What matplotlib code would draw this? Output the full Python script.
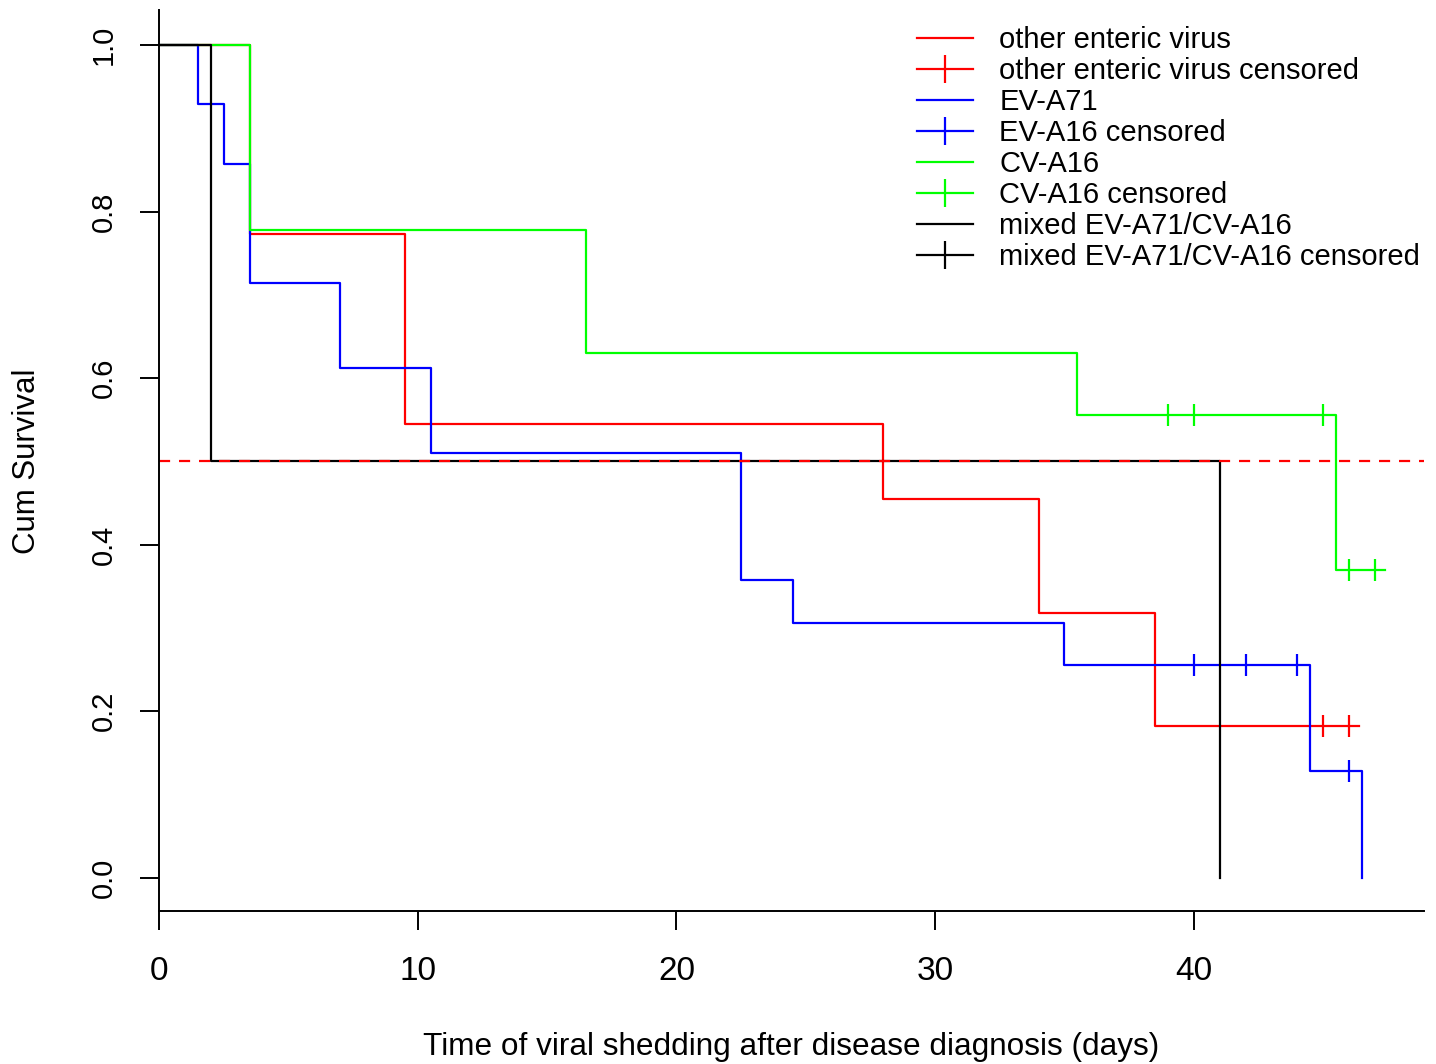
"""
Kaplan-Meier curves of viral shedding time by virus group.
"""

import matplotlib
matplotlib.use("Agg")
import matplotlib.pyplot as plt
from matplotlib.lines import Line2D

plt.rcParams["font.family"] = ["Liberation Sans", "DejaVu Sans"]

# ── data ─────────────────────────────────────────────────────────────────
other_t = [0, 3.5, 9.5, 28, 34, 38.5, 46.4]
other_s = [1.0, 0.773, 0.545, 0.455, 0.318, 0.182, 0.182]
other_cens_t = [45, 46]
other_cens_s = [0.182, 0.182]

a71_t = [0, 1.5, 2.5, 3.5, 7, 10.5, 22.5, 24.5, 35, 44.5, 46.5]
a71_s = [1.0, 0.929, 0.857, 0.714, 0.612, 0.510, 0.357, 0.306, 0.255, 0.128, 0.0]
a71_cens_t = [40, 42, 44, 46]
a71_cens_s = [0.255, 0.255, 0.255, 0.128]

cva16_t = [0, 3.5, 16.5, 35.5, 45.5, 47.4]
cva16_s = [1.0, 0.778, 0.630, 0.556, 0.370, 0.370]
cva16_cens_t = [39, 40, 45, 46, 47]
cva16_cens_s = [0.556, 0.556, 0.556, 0.370, 0.370]

mixed_t = [0, 2, 41]
mixed_s = [1.0, 0.5, 0.0]

labels = ["other enteric virus", "other enteric virus censored",
          "EV-A71", "EV-A16 censored",
          "CV-A16", "CV-A16 censored",
          "mixed EV-A71/CV-A16", "mixed EV-A71/CV-A16 censored"]
colors = ["#FF0000", "#0000FF", "#00FF00", "#000000"]

# ── plot ─────────────────────────────────────────────────────────────────
fig = plt.figure(figsize=(14.36, 10.64), dpi=100)
ax = fig.add_axes([159 / 1436, 153 / 1064, 1265 / 1436, 901 / 1064])

lw = 1.6
curves = [(other_t, other_s, other_cens_t, other_cens_s),
          (a71_t, a71_s, a71_cens_t, a71_cens_s),
          (cva16_t, cva16_s, cva16_cens_t, cva16_cens_s),
          (mixed_t, mixed_s, [], [])]
for (t, s, ct, cs), c in zip(curves, colors):
    ax.step(t, s, where="post", color=c, lw=lw)
    if ct:
        ax.plot(ct, cs, ls="none", marker="|", ms=16, mew=lw, color=c)

ax.axhline(0.5, color="#FF0000", ls=(0, (5, 4)), lw=lw)

ax.set_xlim(0, 48.9)
ax.set_ylim(-0.04, 1.042)
ax.set_xticks([0, 10, 20, 30, 40])
ax.set_yticks([0.0, 0.2, 0.4, 0.6, 0.8, 1.0])
ax.set_yticklabels(["0.0", "0.2", "0.4", "0.6", "0.8", "1.0"],
                   rotation=90, va="center", fontsize=21)
ax.set_xticklabels(["0", "10", "20", "30", "40"], fontsize=24)
ax.tick_params(length=13.5, width=1.4)
ax.tick_params(axis="y", pad=16)
ax.tick_params(axis="x", pad=19)
for side in ("top", "right"):
    ax.spines[side].set_visible(False)
for side in ("left", "bottom"):
    ax.spines[side].set_linewidth(1.4)

fig.text(791 / 1436, 1 - 1047 / 1064,
         "Time of viral shedding after disease diagnosis (days)",
         ha="center", va="center", fontsize=22.7)
fig.text(27 / 1436, 1 - 461 / 1064, "Cum Survival", rotation=90,
         ha="center", va="center", fontsize=22.5)

handles = []
for c in colors:
    handles.append(Line2D([], [], color=c, lw=lw))
    handles.append(Line2D([], [], color=c, lw=lw, marker="|", ms=20, mew=lw))
ax.legend(handles, labels, loc="upper left",
          bbox_to_anchor=(917 / 1436, 1 - 26 / 1064),
          bbox_transform=fig.transFigure, frameon=False, fontsize=21,
          handlelength=1.92, handletextpad=0.9, labelspacing=0.105,
          borderaxespad=0, borderpad=0)

plt.savefig("out.png", dpi=100)
